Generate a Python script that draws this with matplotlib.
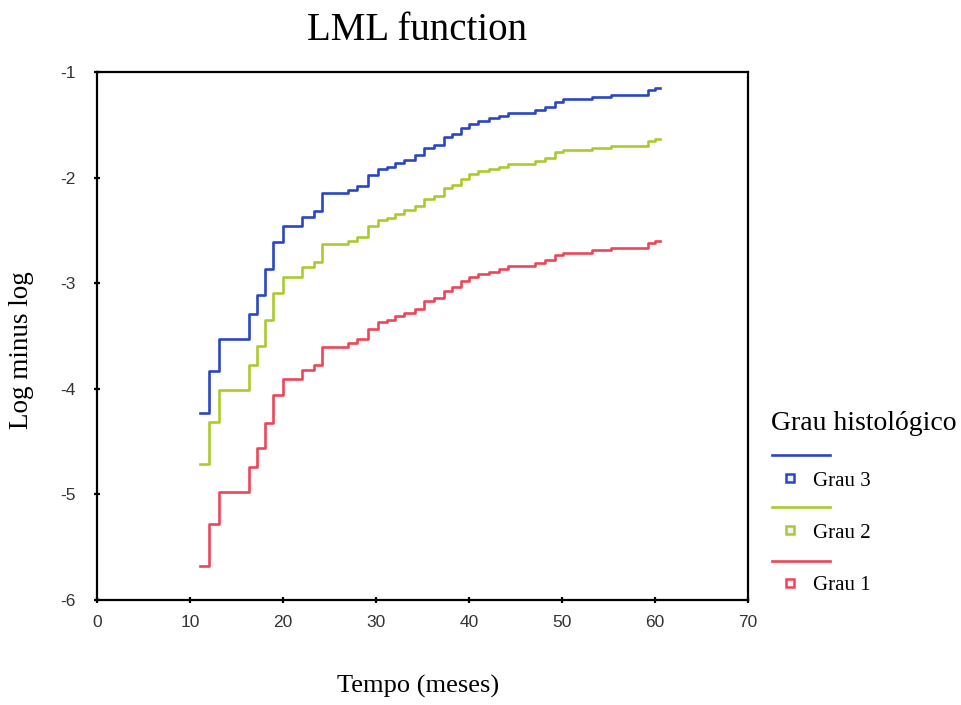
import numpy as np
import matplotlib
matplotlib.use("Agg")
import matplotlib.pyplot as plt
from matplotlib.lines import Line2D

plt.rcParams['font.family'] = ['Liberation Serif', 'DejaVu Serif']
plt.rcParams['axes.unicode_minus'] = False

# event times (months) and log-minus-log values after each step
tempo = [11.1, 12.0, 13.1, 16.3, 17.2, 18.1, 18.9, 20.0, 22.0, 23.3, 24.2,
         27.0, 28.0, 29.1, 30.2, 31.2, 32.0, 33.0, 34.2, 35.2, 36.2, 37.3,
         38.2, 39.1, 40.0, 41.0, 42.1, 43.2, 44.2, 47.1, 48.2, 49.2, 50.1,
         53.2, 55.3, 59.3, 60.0, 60.5]

grau3 = [-4.23, -3.83, -3.53, -3.29, -3.11, -2.87, -2.61, -2.46, -2.37, -2.32, -2.15,
         -2.12, -2.08, -1.98, -1.92, -1.90, -1.86, -1.83, -1.79, -1.72, -1.69, -1.62,
         -1.59, -1.53, -1.49, -1.46, -1.44, -1.42, -1.39, -1.36, -1.33, -1.28, -1.26,
         -1.24, -1.22, -1.17, -1.15, -1.15]

grau2 = [-4.71, -4.31, -4.01, -3.77, -3.59, -3.35, -3.09, -2.94, -2.85, -2.80, -2.63,
         -2.60, -2.56, -2.46, -2.40, -2.38, -2.34, -2.31, -2.27, -2.20, -2.17, -2.10,
         -2.07, -2.01, -1.97, -1.94, -1.92, -1.90, -1.87, -1.84, -1.81, -1.76, -1.74,
         -1.72, -1.70, -1.65, -1.63, -1.63]

grau1 = [-5.68, -5.28, -4.98, -4.74, -4.56, -4.32, -4.06, -3.91, -3.82, -3.77, -3.60,
         -3.57, -3.53, -3.43, -3.37, -3.35, -3.31, -3.28, -3.24, -3.17, -3.14, -3.07,
         -3.04, -2.98, -2.94, -2.91, -2.89, -2.87, -2.84, -2.81, -2.78, -2.73, -2.71,
         -2.69, -2.67, -2.62, -2.60, -2.60]

series = [("Grau 3", grau3, "#2a46c6"),
          ("Grau 2", grau2, "#aacb2e"),
          ("Grau 1", grau1, "#ec4658")]

W, H = 961, 705
fig = plt.figure(figsize=(W / 100, H / 100), dpi=100)
ax = fig.add_axes([97 / W, 1 - 600 / H, 651 / W, 528 / H])

for name, vals, col in series:
    ax.step(tempo, vals, where='post', color=col, lw=1.9)

ax.set_xlim(0, 70)
ax.set_ylim(-6, -1)
ax.set_xticks(np.arange(0, 71, 10))
ax.set_yticks(np.arange(-6, 0, 1))
ax.tick_params(direction='inout', length=5, width=1.6)
ax.tick_params(axis='x', pad=8)
ax.tick_params(axis='y', pad=13)
for lab in ax.get_xticklabels() + ax.get_yticklabels():
    lab.set_family(['Liberation Sans', 'DejaVu Sans'])
    lab.set_fontsize(12.5)
    lab.set_color('#333333')
for s in ax.spines.values():
    s.set_linewidth(1.6)

fig.text(22 / W, 1 - 350 / H, "Log minus log", fontsize=19.5, rotation=90,
         ha='center', va='center')
fig.text(418 / W, 1 - 686 / H, "Tempo (meses)", fontsize=19,
         ha='center', va='center')
fig.text(417 / W, 1 - 30 / H, "LML function", fontsize=28,
         ha='center', va='center')

# SPSS-style legend on the right
fig.text(771 / W, 1 - 423 / H, "Grau histológico", fontsize=20,
         ha='left', va='center')
line_y = [455, 507, 561]
mark_y = [478, 530, 583]
for (name, vals, col), yl, ym in zip(series, line_y, mark_y):
    fig.add_artist(Line2D([772 / W, 830 / W], [1 - yl / H, 1 - yl / H],
                          color=col, lw=1.9, transform=fig.transFigure))
    fig.add_artist(Line2D([790 / W], [1 - ym / H], marker='s', ms=5.5,
                          mfc='#eef2ff', mec=col, mew=1.8, ls='none',
                          transform=fig.transFigure))
    fig.text(813 / W, 1 - (ym + 3) / H, name, fontsize=15,
             ha='left', va='center')

fig.savefig("out.png", dpi=100)
